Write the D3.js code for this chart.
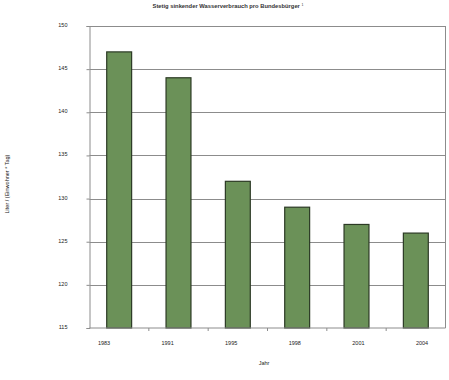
<!DOCTYPE html>
<html><head><meta charset="utf-8">
<script src="https://cdn.jsdelivr.net/npm/d3@7"></script>
<style>body{margin:0;background:#fff}</style>
</head><body>
<svg id="c" width="449" height="380"></svg>
<script>
const years = ["1983","1991","1995","1998","2001","2004"];
const values = [147, 144, 132, 129, 127, 126];
const yTicks = [115,120,125,130,135,140,145,150];

const svg = d3.select("#c");
const L = 89.5, R = 445.5, T = 26, B = 328;
const font = "Arial, 'Liberation Sans', sans-serif";

const x = d3.scaleBand().domain(years).range([L, R]).paddingInner(0.58).paddingOuter(0.29);
const xb = d3.scaleBand().domain(years).range([L, R]);
const xl = d3.scalePoint().domain(years).range([104, 422]);
const y = d3.scaleLinear().domain([115,150]).range([B, T]);

// gridlines
svg.append("g").selectAll("line").data(yTicks.slice(1)).join("line")
  .attr("x1", L).attr("x2", R)
  .attr("y1", d => Math.round(y(d))+0.5).attr("y2", d => Math.round(y(d))+0.5)
  .attr("stroke", "#8c8c8c").attr("stroke-width", 1);
// right border
svg.append("line").attr("x1", R).attr("x2", R).attr("y1", T).attr("y2", B)
  .attr("stroke", "#8c8c8c");

// bars
svg.append("g").selectAll("rect").data(values).join("rect")
  .attr("x", (d,i) => x(years[i]))
  .attr("width", x.bandwidth())
  .attr("y", d => y(d))
  .attr("height", d => B - y(d))
  .attr("fill", "#6b9158").attr("stroke", "#2c3a25").attr("stroke-width", 1.2);

// y axis
const ya = svg.append("g").attr("transform", `translate(${L},0)`)
  .call(d3.axisLeft(y).tickValues(yTicks).tickSize(3).tickPadding(19).tickFormat(d3.format("d")));
ya.select(".domain").attr("stroke", "#8c8c8c");
ya.selectAll(".tick line").attr("stroke", "#8c8c8c");
ya.selectAll("text").attr("font-family", font).attr("font-size", "5.5px").attr("fill", "#222").attr("dy", "0.1em");

// x axis
const xa = svg.append("g").attr("transform", `translate(0,${B})`);
xa.append("line").attr("x1", L).attr("x2", R).attr("y1", 0).attr("y2", 0).attr("stroke", "#8c8c8c");
xa.selectAll("line.t").data(years.slice(1)).join("line").attr("class","t")
  .attr("x1", d => xb(d)).attr("x2", d => xb(d)).attr("y1", 0).attr("y2", 3).attr("stroke", "#8c8c8c");
xa.selectAll("text").data(years).join("text")
  .attr("x", d => xl(d)).attr("y", 17)
  .attr("text-anchor", "middle").attr("font-family", font).attr("font-size", "5.5px").attr("fill", "#222")
  .text(d => d);

// labels
svg.append("text").attr("x", 264).attr("y", 365).attr("text-anchor", "middle")
  .attr("font-family", font).attr("font-size", "5.5px").attr("fill", "#222").text("Jahr");
svg.append("text").attr("transform", "translate(9,184) rotate(-90)").attr("text-anchor", "middle")
  .attr("font-family", font).attr("font-size", "5.5px").attr("fill", "#222").text("Liter / (Einwohner * Tag)");
const t = svg.append("text").attr("x", 228).attr("y", 8).attr("text-anchor", "middle")
  .attr("font-family", font).attr("font-size", "5.8px").attr("font-weight", "bold").attr("fill", "#333");
t.append("tspan").text("Stetig sinkender Wasserverbrauch pro Bundesbürger ");
t.append("tspan").attr("font-size", "3.5px").attr("font-weight", "normal").attr("dy", "-2").text("1");
</script>
</body></html>
